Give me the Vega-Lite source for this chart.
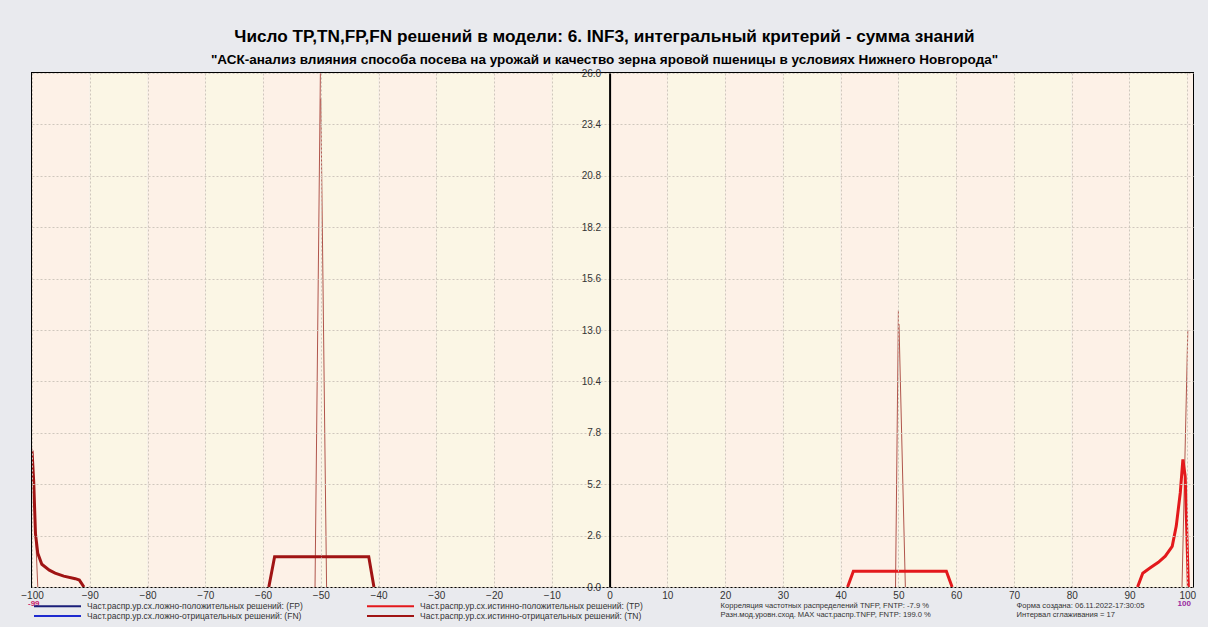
{
  "$schema": "https://vega.github.io/schema/vega-lite/v6.json",
  "width": 1161,
  "height": 514,
  "autosize": {"type": "none"},
  "padding": {"left": 32, "top": 73, "right": 15, "bottom": 40},
  "background": "#e9eaee",
  "config": {
    "font": "Liberation Sans",
    "view": {"stroke": "#000000", "strokeWidth": 2}
  },
  "title": {
    "text": "Число TP,TN,FP,FN решений в модели: 6. INF3, интегральный критерий - сумма знаний",
    "subtitle": "\"АСК-анализ влияния способа посева на урожай и качество зерна яровой пшеницы в условиях Нижнего Новгорода\"",
    "fontSize": 17.2,
    "fontWeight": "bold",
    "color": "#000000",
    "subtitleFontSize": 13.5,
    "subtitleFontWeight": "bold",
    "subtitleColor": "#000000",
    "subtitlePadding": 7,
    "anchor": "middle",
    "offset": 2,
    "dx": -8
  },
  "datasets": {
    "bands": [
      {"x0": -100, "x1": -90, "band": "a"}, {"x0": -90, "x1": -80, "band": "b"},
      {"x0": -80, "x1": -70, "band": "a"}, {"x0": -70, "x1": -60, "band": "b"},
      {"x0": -60, "x1": -50, "band": "a"}, {"x0": -50, "x1": -40, "band": "b"},
      {"x0": -40, "x1": -30, "band": "a"}, {"x0": -30, "x1": -20, "band": "b"},
      {"x0": -20, "x1": -10, "band": "a"}, {"x0": -10, "x1": 0, "band": "b"},
      {"x0": 0, "x1": 10, "band": "a"}, {"x0": 10, "x1": 20, "band": "b"},
      {"x0": 20, "x1": 30, "band": "a"}, {"x0": 30, "x1": 40, "band": "b"},
      {"x0": 40, "x1": 50, "band": "a"}, {"x0": 50, "x1": 60, "band": "b"},
      {"x0": 60, "x1": 70, "band": "a"}, {"x0": 70, "x1": 80, "band": "b"},
      {"x0": 80, "x1": 90, "band": "a"}, {"x0": 90, "x1": 100, "band": "b"},
      {"x0": 100, "x1": 101, "band": "a"}
    ],
    "thick": [
      {"s": "TN", "g": "tn1", "x": -100, "y": 6.9},
      {"s": "TN", "g": "tn1", "x": -99.7, "y": 5.3},
      {"s": "TN", "g": "tn1", "x": -99.4, "y": 2.7},
      {"s": "TN", "g": "tn1", "x": -99, "y": 1.7},
      {"s": "TN", "g": "tn1", "x": -98.3, "y": 1.15},
      {"s": "TN", "g": "tn1", "x": -97, "y": 0.85},
      {"s": "TN", "g": "tn1", "x": -96, "y": 0.7},
      {"s": "TN", "g": "tn1", "x": -94.5, "y": 0.55},
      {"s": "TN", "g": "tn1", "x": -92.5, "y": 0.42},
      {"s": "TN", "g": "tn1", "x": -91.8, "y": 0.35},
      {"s": "TN", "g": "tn1", "x": -91, "y": 0},
      {"s": "TN", "g": "tn2", "x": -59, "y": 0},
      {"s": "TN", "g": "tn2", "x": -58, "y": 1.53},
      {"s": "TN", "g": "tn2", "x": -41.7, "y": 1.53},
      {"s": "TN", "g": "tn2", "x": -40.8, "y": 0},
      {"s": "TP", "g": "tp1", "x": 41.2, "y": 0},
      {"s": "TP", "g": "tp1", "x": 42.2, "y": 0.8},
      {"s": "TP", "g": "tp1", "x": 58.3, "y": 0.8},
      {"s": "TP", "g": "tp1", "x": 59.3, "y": 0},
      {"s": "TP", "g": "tp2", "x": 91.4, "y": 0},
      {"s": "TP", "g": "tp2", "x": 92.3, "y": 0.7},
      {"s": "TP", "g": "tp2", "x": 93.6, "y": 0.97},
      {"s": "TP", "g": "tp2", "x": 95, "y": 1.25},
      {"s": "TP", "g": "tp2", "x": 96.2, "y": 1.56},
      {"s": "TP", "g": "tp2", "x": 97.4, "y": 2.06},
      {"s": "TP", "g": "tp2", "x": 98.1, "y": 3.08},
      {"s": "TP", "g": "tp2", "x": 98.8, "y": 4.77},
      {"s": "TP", "g": "tp2", "x": 99.25, "y": 6.45},
      {"s": "TP", "g": "tp2", "x": 99.65, "y": 5.6},
      {"s": "TP", "g": "tp2", "x": 100.2, "y": 0}
    ],
    "thin": [
      {"g": "a", "x": -51, "y": 0}, {"g": "a", "x": -50, "y": 28},
      {"g": "b", "x": -50, "y": 24.7}, {"g": "b", "x": -49, "y": 0},
      {"g": "c", "x": -100, "y": 7.0}, {"g": "c", "x": -99, "y": 0},
      {"g": "d", "x": 49.5, "y": 0}, {"g": "d", "x": 50, "y": 14.0},
      {"g": "e", "x": 50.1, "y": 13.3}, {"g": "e", "x": 51.2, "y": 0},
      {"g": "f", "x": 99.1, "y": 0}, {"g": "f", "x": 100.1, "y": 13.0}
    ],
    "notes": [
      {"n": "Корреляция частотных распределений TNFP, FNTP: -7.9 %"},
      {"n": "Разн.мод.уровн.сход. MAX част.распр.TNFP, FNTP:  199.0 %"},
      {"n": "Форма создана: 06.11.2022-17:30:05"},
      {"n": "Интервал сглаживания = 17"}
    ]
  },
  "layer": [
    {
      "data": {"name": "bands"},
      "mark": {"type": "rect"},
      "encoding": {
        "x": {
          "field": "x0", "type": "quantitative",
          "scale": {"domain": [-100, 101], "nice": false, "zero": false},
          "axis": {
            "values": [-100, -90, -80, -70, -60, -50, -40, -30, -20, -10, 0, 10, 20, 30, 40, 50, 60, 70, 80, 90, 100],
            "format": "d", "title": null, "grid": true, "gridDash": [2, 2], "gridColor": "#cfc7bd",
            "ticks": false, "domain": false, "labelPadding": 3, "labelFontSize": 10,
            "labelColor": "#333333", "labelFlush": false, "zindex": 1
          }
        },
        "x2": {"field": "x1"},
        "fill": {
          "field": "band", "type": "nominal",
          "scale": {"domain": ["a", "b"], "range": ["#fdf1e7", "#fbf6e5"]},
          "legend": null
        }
      }
    },
    {
      "data": {"name": "thin"},
      "mark": {"type": "line", "color": "#b0554c", "strokeWidth": 1, "clip": true},
      "encoding": {
        "x": {"field": "x", "type": "quantitative"},
        "y": {
          "field": "y", "type": "quantitative",
          "scale": {"domain": [0, 26], "nice": false, "zero": true},
          "axis": {
            "values": [0, 2.6, 5.2, 7.8, 10.4, 13, 15.6, 18.2, 20.8, 23.4, 26],
            "format": ".1f", "title": null, "offset": -577.6, "grid": true, "gridDash": [2, 2],
            "gridColor": "#cfc7bd", "ticks": false, "domain": true, "domainColor": "#000000",
            "domainWidth": 2, "labelPadding": 9, "labelFontSize": 10, "labelColor": "#333333",
            "labelFlush": false, "zindex": 1
          }
        },
        "detail": {"field": "g", "type": "nominal"}
      }
    },
    {
      "data": {"name": "thick"},
      "mark": {"type": "line", "strokeWidth": 3, "clip": true},
      "encoding": {
        "x": {"field": "x", "type": "quantitative"},
        "y": {"field": "y", "type": "quantitative"},
        "detail": {"field": "g", "type": "nominal"},
        "color": {
          "field": "s", "type": "nominal",
          "scale": {"domain": ["FP", "FN", "TP", "TN"], "range": ["#1b1f7a", "#1f2bd0", "#e3191c", "#a01414"]},
          "legend": {
            "orient": "none", "legendX": -3, "legendY": 528, "columns": 2, "title": null,
            "symbolType": "M0,0H11.75", "symbolSize": 64, "symbolStrokeWidth": 2,
            "symbolFillColor": "transparent",
            "labelOffset": 48, "labelFontSize": 8.5, "labelColor": "#333333", "labelLimit": 400,
            "columnPadding": 59, "rowPadding": -3, "padding": 0,
            "labelExpr": "datum.label == 'FP' ? 'Част.распр.ур.сх.ложно-положительных решений: (FP)' : datum.label == 'TP' ? 'Част.распр.ур.сх.истинно-положительных решений: (TP)' : datum.label == 'FN' ? 'Част.распр.ур.сх.ложно-отрицательных решений: (FN)' : 'Част.распр.ур.сх.истинно-отрицательных решений: (TN)'"
          }
        }
      }
    },
    {
      "data": {"values": [{"x": -99, "t": "-99"}]},
      "mark": {"type": "text", "color": "#c8206a", "fontSize": 8, "fontWeight": "bold", "dx": -4, "dy": 17},
      "encoding": {
        "x": {"field": "x", "type": "quantitative"},
        "y": {"datum": 0},
        "text": {"field": "t"}
      }
    },
    {
      "data": {"values": [{"x": 100, "t": "100"}]},
      "mark": {"type": "text", "color": "#9a2aa0", "fontSize": 8, "fontWeight": "bold", "dx": -3, "dy": 17},
      "encoding": {
        "x": {"field": "x", "type": "quantitative"},
        "y": {"datum": 0},
        "text": {"field": "t"}
      }
    },
    {
      "data": {"name": "notes"},
      "mark": {"type": "point", "opacity": 0},
      "encoding": {
        "shape": {
          "field": "n", "type": "nominal",
          "scale": {"domain": [
            "Корреляция частотных распределений TNFP, FNTP: -7.9 %",
            "Разн.мод.уровн.сход. MAX част.распр.TNFP, FNTP:  199.0 %",
            "Форма создана: 06.11.2022-17:30:05",
            "Интервал сглаживания = 17"
          ]},
          "legend": {
            "orient": "none", "legendX": 681, "legendY": 529, "columns": 2, "title": null,
            "symbolSize": 0, "symbolOpacity": 0, "symbolStrokeWidth": 0, "labelOffset": 0,
            "labelFontSize": 7.6, "labelColor": "#333333", "columnPadding": 76, "rowPadding": 0,
            "padding": 0, "labelLimit": 400
          }
        }
      }
    }
  ]
}
